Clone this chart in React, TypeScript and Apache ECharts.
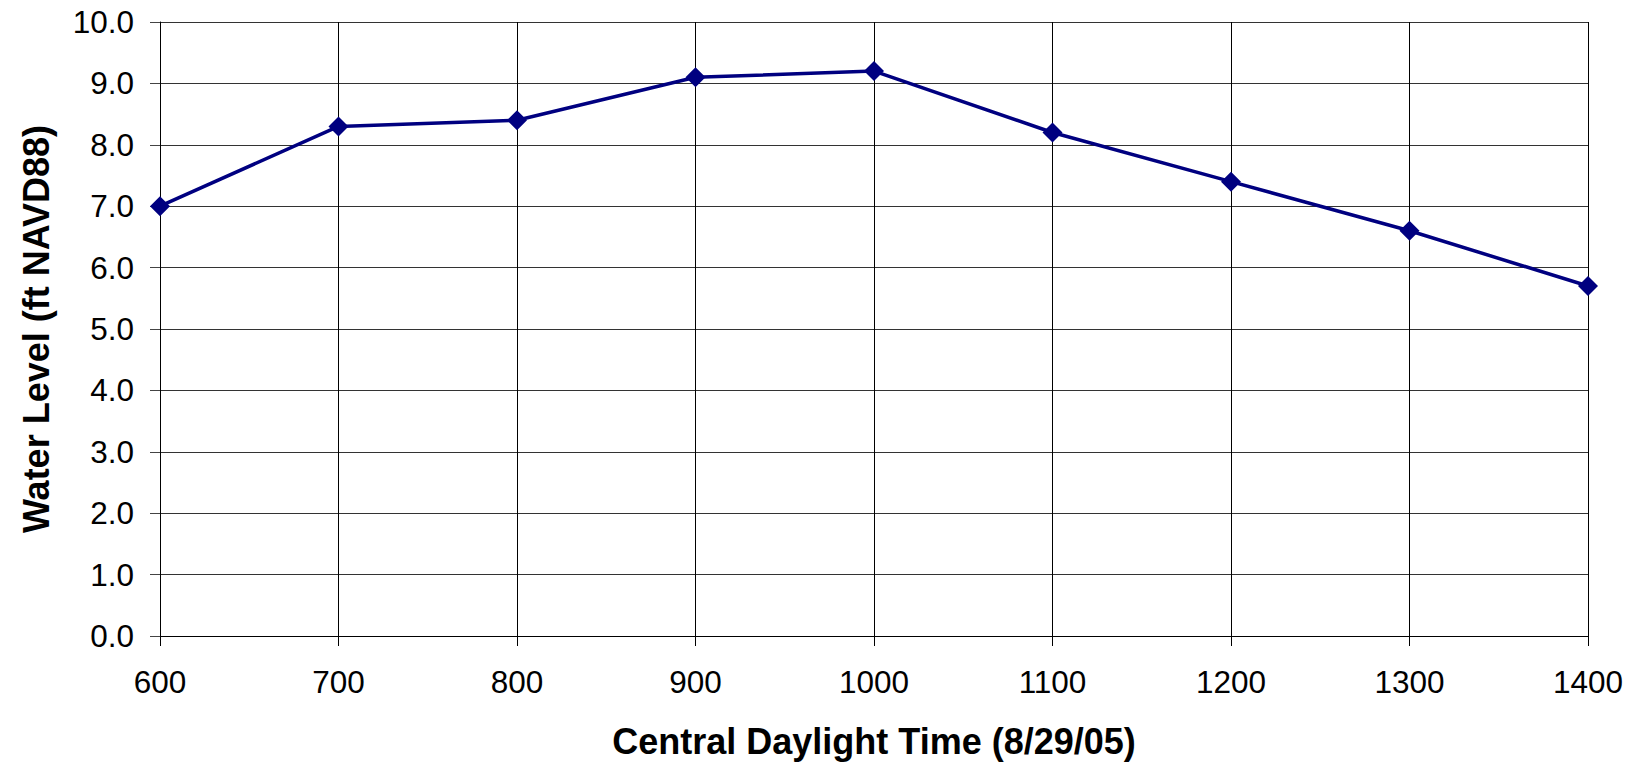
import React, { useEffect, useRef } from "react";
import * as echarts from "echarts";

// Observed water level by hour (Central Daylight Time, 8/29/05)
const times = [600, 700, 800, 900, 1000, 1100, 1200, 1300, 1400];
const waterLevel = [7.0, 8.3, 8.4, 9.1, 9.2, 8.2, 7.4, 6.6, 5.7];

const xTitle = "Central Daylight Time (8/29/05)";
const yTitle = "Water Level (ft NAVD88)";

const FONT = "'Liberation Sans', Arial, Helvetica, sans-serif";

export default function App() {
  const ref = useRef<HTMLDivElement>(null);

  useEffect(() => {
    if (!ref.current) return;
    const chart = echarts.init(ref.current, undefined, { renderer: "svg" });
    chart.setOption({
      animation: false,
      backgroundColor: "#ffffff",
      grid: {
        left: 160,
        right: 52,
        top: 22,
        bottom: 129,
        containLabel: false,
        outerBoundsMode: "none",
      },
      xAxis: {
        type: "value",
        min: 600,
        max: 1400,
        interval: 100,
        name: xTitle,
        nameLocation: "middle",
        nameGap: 87,
        nameTextStyle: {
          fontFamily: FONT,
          fontWeight: "bold",
          fontSize: 36,
          color: "#000",
        },
        axisLine: { show: true, lineStyle: { color: "#000", width: 1 } },
        axisTick: { show: true, length: 10, inside: false, lineStyle: { color: "#000" } },
        axisLabel: {
          margin: 30,
          fontFamily: FONT,
          fontSize: 31.5,
          color: "#000",
          formatter: (v: number) => String(v),
        },
        splitLine: { show: true, lineStyle: { color: "#000", width: 1 } },
      },
      yAxis: {
        type: "value",
        min: 0,
        max: 10,
        interval: 1,
        name: yTitle,
        nameLocation: "middle",
        nameGap: 106,
        nameRotate: 90,
        nameTextStyle: {
          fontFamily: FONT,
          fontWeight: "bold",
          fontSize: 36,
          color: "#000",
        },
        axisLine: { show: true, lineStyle: { color: "#000", width: 1 } },
        axisTick: { show: true, length: 10, inside: false, lineStyle: { color: "#444" } },
        axisLabel: {
          margin: 26,
          fontFamily: FONT,
          fontSize: 31.5,
          color: "#000",
          formatter: (v: number) => v.toFixed(1),
        },
        splitLine: { show: true, lineStyle: { color: "#333", width: 1 } },
      },
      series: [
        {
          type: "line",
          data: times.map((t, i) => [t, waterLevel[i]]),
          symbol: "diamond",
          symbolSize: 20,
          showSymbol: true,
          lineStyle: { color: "#000080", width: 3.5 },
          itemStyle: { color: "#000080" },
          z: 3,
        },
      ],
    });
    return () => chart.dispose();
  }, []);

  return (
    <div
      ref={ref}
      style={{ position: "fixed", left: 0, top: 0, width: 1640, height: 765 }}
    />
  );
}
